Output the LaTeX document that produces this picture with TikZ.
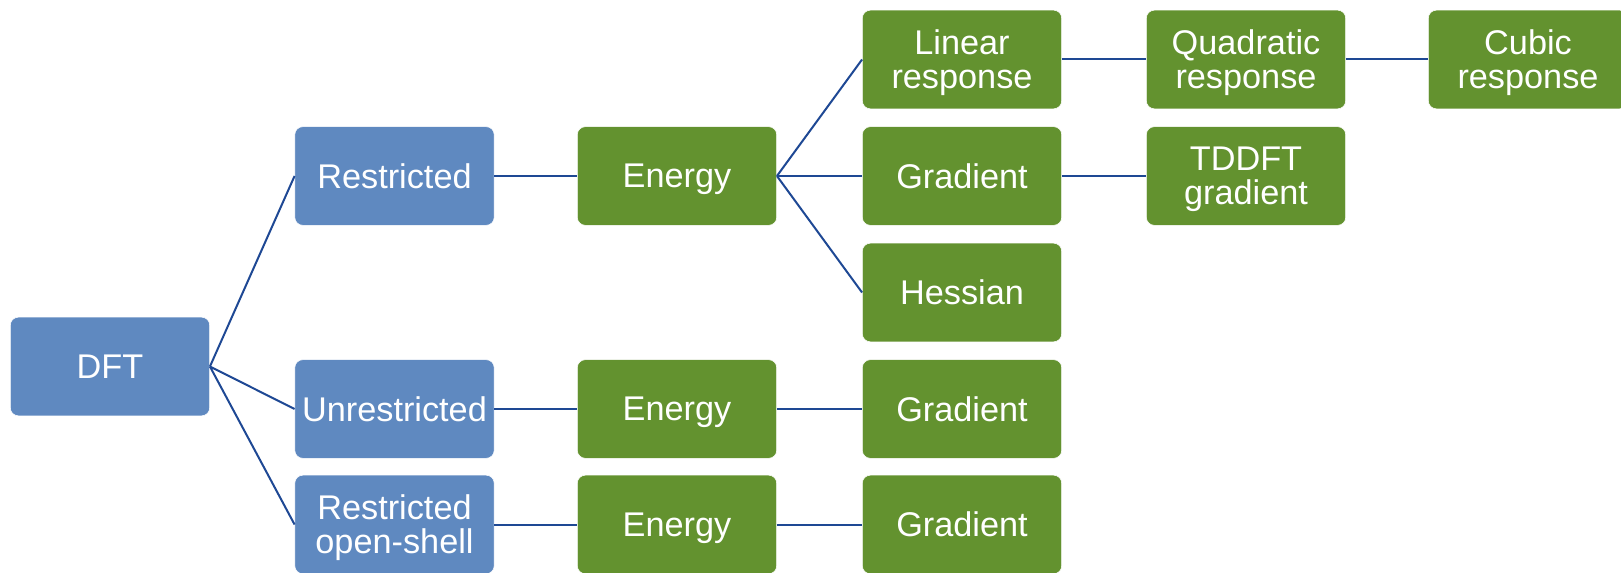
\documentclass[tikz,border=0pt]{standalone}
\usepackage{fontspec}
\setmainfont{Liberation Sans}
\definecolor{boxblue}{RGB}{95,137,192}
\definecolor{boxgreen}{RGB}{99,146,47}
\definecolor{linkblue}{RGB}{30,72,148}
\begin{document}
\begin{tikzpicture}[x=0.75pt,y=-0.75pt,
  box/.style={rounded corners=6pt, draw=white, line width=0.4pt, text=white,
    minimum width=149.5pt, minimum height=74pt, inner sep=0pt, align=center,
    text depth=0pt, font=\fontsize{25.7}{25.5}\selectfont},
  bbox/.style={box, fill=boxblue},
  gbox/.style={box, fill=boxgreen},
  link/.style={draw=linkblue, line width=1.5pt}]
\useasboundingbox (0,0) rectangle (1621,573);
\begin{scope}
\clip (0,0) rectangle (1621,573);
\node[bbox] (dft) at (110,366.5) {DFT};
\node[bbox] (r) at (394.5,176) {Restricted};
\node[bbox] (u) at (394.5,409) {Unrestricted};
\node[bbox] (ro) at (394.5,524.5) {Restricted\\open-shell};
\node[gbox] (e1) at (677,176) {Energy};
\node[gbox] (e2) at (677,409) {Energy};
\node[gbox] (e3) at (677,524.5) {Energy};
\node[gbox] (lr) at (962,59.5) {Linear\\response};
\node[gbox] (g1) at (962,176) {Gradient};
\node[gbox] (h) at (962,292.5) {Hessian};
\node[gbox] (g2) at (962,409) {Gradient};
\node[gbox] (g3) at (962,524.5) {Gradient};
\node[gbox] (qr) at (1246,59.5) {Quadratic\\response};
\node[gbox] (td) at (1246,176) {TDDFT\\gradient};
\node[gbox] (cr) at (1528,59.5) {Cubic\\response};
\end{scope}
\draw[link] (dft.east) -- (r.west);
\draw[link] (dft.east) -- (u.west);
\draw[link] (dft.east) -- (ro.west);
\draw[link] (r) -- (e1);
\draw[link] (u) -- (e2);
\draw[link] (ro) -- (e3);
\draw[link] (e1.east) -- (lr.west);
\draw[link] (e1.east) -- (g1.west);
\draw[link] (e1.east) -- (h.west);
\draw[link] (e2) -- (g2);
\draw[link] (e3) -- (g3);
\draw[link] (lr) -- (qr);
\draw[link] (qr) -- (cr);
\draw[link] (g1) -- (td);
\end{tikzpicture}
\end{document}
